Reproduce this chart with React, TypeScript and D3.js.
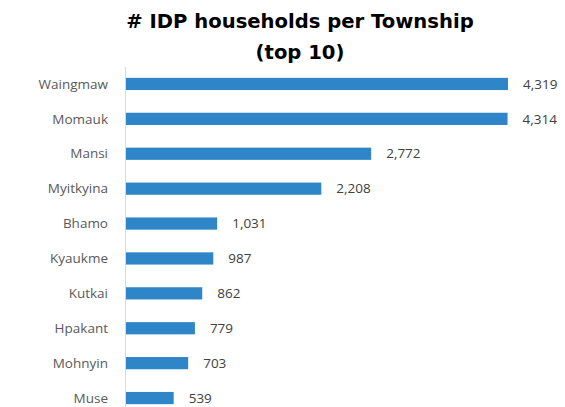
import React from "react";
import * as d3 from "d3";

const townships = ["Waingmaw", "Momauk", "Mansi", "Myitkyina", "Bhamo", "Kyaukme", "Kutkai", "Hpakant", "Mohnyin", "Muse"];
const households = [4319, 4314, 2772, 2208, 1031, 987, 862, 779, 703, 539];
const titleLines = ["# IDP households per Township", "(top 10)"];

export default function App() {
  const W = 565, H = 407;
  const x0 = 126;
  const x = d3.scaleLinear().domain([0, 4319]).range([x0, 508]);
  const y = d3.scaleBand<string>().domain(townships).range([66.5, 415.5]).paddingInner(0.65).paddingOuter(0.325);
  const fmt = d3.format(",");
  return (
    <svg width={W} height={H} style={{ position: "absolute", left: 0, top: 0, background: "#fff" }}>
      {titleLines.map((t, i) => (
        <text key={i} x={300} y={28 + i * 31} textAnchor="middle" fontFamily="DejaVu Sans" fontWeight="bold" fontSize={19.6} fill="#000">{t}</text>
      ))}
      <line x1={125.5} x2={125.5} y1={67} y2={H} stroke="#d9d9d9" strokeWidth={1} />
      {townships.map((c, i) => (
        <g key={c}>
          <rect x={x0} y={y(c)!} width={x(households[i]) - x0} height={y.bandwidth()} fill="#2e86c8" />
          <text x={108} y={y(c)! + y.bandwidth() / 2} dy="0.35em" textAnchor="end" fontFamily="Open Sans" fontSize={13.5} fill="#595959">{c}</text>
          <text x={x(households[i]) + 15} y={y(c)! + y.bandwidth() / 2} dy="0.35em" textAnchor="start" fontFamily="Open Sans" fontSize={13.5} fill="#404040">{fmt(households[i])}</text>
        </g>
      ))}
    </svg>
  );
}
